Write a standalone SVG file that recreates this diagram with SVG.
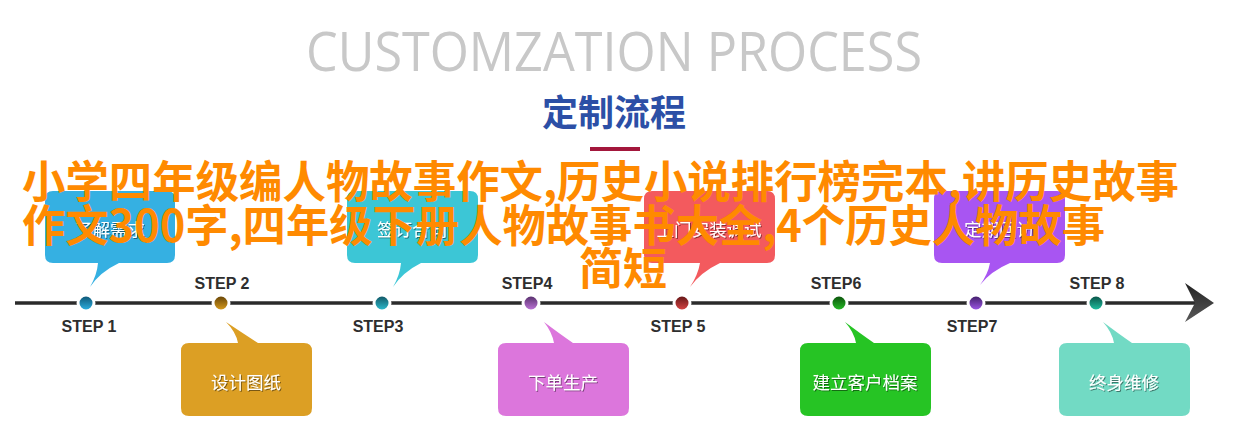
<svg xmlns="http://www.w3.org/2000/svg" width="1246" height="442" viewBox="0 0 1246 442">
<style>
.step{font-family:"Liberation Sans",Arial,sans-serif;font-weight:bold;font-size:16px;fill:#2e2e2e;text-anchor:middle}
.btxt{font-family:"Noto Sans CJK SC","Liberation Sans",sans-serif;font-size:17.5px;fill:#ffffff;text-anchor:middle;filter:url(#ts)}
.dot{stroke:#ffffff;stroke-width:3}
.ov{font-family:"Noto Sans CJK SC","Liberation Sans",sans-serif;font-weight:bold;font-size:44px;fill:#ff8a00}
</style>
<defs>
<filter id="ts" x="-10%" y="-30%" width="130%" height="160%">
<feDropShadow dx="1" dy="1" stdDeviation="0.6" flood-color="#000" flood-opacity="0.45"/>
</filter>
<linearGradient id="arr" x1="0" y1="0" x2="0" y2="1">
<stop offset="0" stop-color="#222"/><stop offset="1" stop-color="#5a5a5a"/>
</linearGradient>
<linearGradient id="g1" x1="0" y1="0" x2="0" y2="1"><stop offset="0" stop-color="#0c4f6e"/><stop offset="1" stop-color="#2fb6e8"/></linearGradient>
<linearGradient id="g2" x1="0" y1="0" x2="0" y2="1"><stop offset="0" stop-color="#5e3d05"/><stop offset="1" stop-color="#e0a21f"/></linearGradient>
<linearGradient id="g3" x1="0" y1="0" x2="0" y2="1"><stop offset="0" stop-color="#0f4e5c"/><stop offset="1" stop-color="#2fc3d6"/></linearGradient>
<linearGradient id="g4" x1="0" y1="0" x2="0" y2="1"><stop offset="0" stop-color="#4e2a63"/><stop offset="1" stop-color="#c67ae0"/></linearGradient>
<linearGradient id="g5" x1="0" y1="0" x2="0" y2="1"><stop offset="0" stop-color="#5a1212"/><stop offset="1" stop-color="#e04848"/></linearGradient>
<linearGradient id="g6" x1="0" y1="0" x2="0" y2="1"><stop offset="0" stop-color="#0a4a0a"/><stop offset="1" stop-color="#28c428"/></linearGradient>
<linearGradient id="g7" x1="0" y1="0" x2="0" y2="1"><stop offset="0" stop-color="#3b1a60"/><stop offset="1" stop-color="#a45cf0"/></linearGradient>
<linearGradient id="g8" x1="0" y1="0" x2="0" y2="1"><stop offset="0" stop-color="#074a40"/><stop offset="1" stop-color="#22c8a8"/></linearGradient>
</defs>
<rect width="1246" height="442" fill="#ffffff"/>

<g id="title">
<text x="614" y="71" text-anchor="middle" textLength="616" lengthAdjust="spacingAndGlyphs" font-family="'Open Sans','Liberation Sans',sans-serif" font-size="55" fill="#c8c8c8">CUSTOMZATION PROCESS</text>
</g>
<g id="subtitle">
<text x="614" y="126" text-anchor="middle" font-family="'Noto Sans CJK SC',sans-serif" font-weight="bold" font-size="36" fill="#2c4fa6">定制流程</text>
<rect x="590" y="147" width="50" height="4" fill="#a3173c"/>
</g>

<g id="connectors">
<line x1="15" y1="303" x2="1196" y2="303" stroke="#2b2b2b" stroke-width="3.5"/>
<path d="M1185,283 L1214,303 L1185,322 L1195,303 Z" fill="url(#arr)"/>
</g>

<g id="step1">
<path d="M53,191 H167 Q175,191 175,199 V255 Q175,263 167,263 H119 Q100,272 90,287 Q97,275 98,263 H53 Q45,263 45,255 V199 Q45,191 53,191 Z" fill="#35b0e2"/>
<text class="btxt" x="110" y="236">了解需求</text>
<circle class="dot" cx="86" cy="303" r="8" fill="url(#g1)"/>
<text class="step" x="89" y="332">STEP 1</text>
</g>

<g id="step2">
<path d="M189,343 H238 Q236,332 226,322 Q244,334 258,343 H304 Q312,343 312,351 V408 Q312,416 304,416 H189 Q181,416 181,408 V351 Q181,343 189,343 Z" fill="#dc9f24"/>
<text class="btxt" x="246" y="389">设计图纸</text>
<circle class="dot" cx="221" cy="303" r="8" fill="url(#g2)"/>
<text class="step" x="222" y="289">STEP 2</text>
</g>

<g id="step3">
<path d="M355,191 H470 Q478,191 478,199 V255 Q478,263 470,263 H421 Q403,272 393,287 Q400,275 401,263 H355 Q347,263 347,255 V199 Q347,191 355,191 Z" fill="#3cc6d6"/>
<text class="btxt" x="412" y="236">签订合同</text>
<circle class="dot" cx="382" cy="303" r="8" fill="url(#g3)"/>
<text class="step" x="378" y="332">STEP3</text>
</g>

<g id="step4">
<path d="M506,343 H554 Q552,332 544,322 Q560,334 573,343 H621 Q629,343 629,351 V408 Q629,416 621,416 H506 Q498,416 498,408 V351 Q498,343 506,343 Z" fill="#dc76dc"/>
<text class="btxt" x="563" y="389">下单生产</text>
<circle class="dot" cx="531" cy="303" r="8" fill="url(#g4)"/>
<text class="step" x="527" y="289">STEP4</text>
</g>

<g id="step5">
<path d="M652,191 H767 Q775,191 775,199 V255 Q775,263 767,263 H720 Q701,272 690,287 Q698,275 700,263 H652 Q644,263 644,255 V199 Q644,191 652,191 Z" fill="#f35a5e"/>
<text class="btxt" x="709" y="236">上门安装调试</text>
<circle class="dot" cx="682" cy="303" r="8" fill="url(#g5)"/>
<text class="step" x="678" y="332">STEP 5</text>
</g>

<g id="step6">
<path d="M808,343 H856 Q854,332 845,322 Q861,334 874,343 H923 Q931,343 931,351 V408 Q931,416 923,416 H808 Q800,416 800,408 V351 Q800,343 808,343 Z" fill="#26c424"/>
<text class="btxt" x="865" y="389">建立客户档案</text>
<circle class="dot" cx="839" cy="303" r="8" fill="url(#g6)"/>
<text class="step" x="836" y="289">STEP6</text>
</g>

<g id="step7">
<path d="M942,191 H1057 Q1065,191 1065,199 V255 Q1065,263 1057,263 H1010 Q991,271 980,285 Q988,274 990,263 H942 Q934,263 934,255 V199 Q934,191 942,191 Z" fill="#a855f2"/>
<text class="btxt" x="999" y="236">定期回访</text>
<circle class="dot" cx="976" cy="303" r="8" fill="url(#g7)"/>
<text class="step" x="972" y="332">STEP7</text>
</g>

<g id="step8">
<path d="M1067,343 H1114 Q1112,332 1103,322 Q1119,334 1132,343 H1182 Q1190,343 1190,351 V408 Q1190,416 1182,416 H1067 Q1059,416 1059,408 V351 Q1059,343 1067,343 Z" fill="#72dac4"/>
<text class="btxt" x="1124" y="389">终身维修</text>
<circle class="dot" cx="1096" cy="303" r="8" fill="url(#g8)"/>
<text class="step" x="1097" y="289">STEP 8</text>
</g>

<g id="overlay">
<text class="ov" x="22" y="198" textLength="1157" lengthAdjust="spacingAndGlyphs">小学四年级编人物故事作文,历史小说排行榜完本,讲历史故事</text>
<text class="ov" x="22" y="242" textLength="1083" lengthAdjust="spacingAndGlyphs">作文300字,四年级下册人物故事书大全,4个历史人物故事</text>
<text class="ov" x="623" y="285" text-anchor="middle">简短</text>
</g>
</svg>
